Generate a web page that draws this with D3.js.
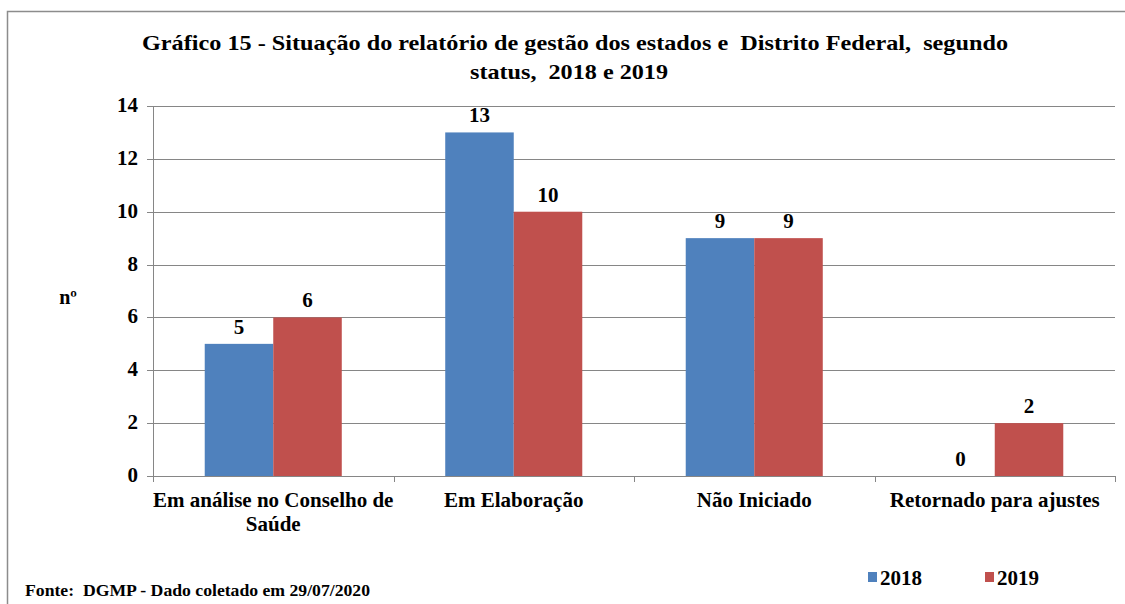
<!DOCTYPE html>
<html>
<head>
<meta charset="utf-8">
<script src="https://cdn.jsdelivr.net/npm/d3@7"></script>
<style>
  body { margin: 0; background: #fff; }
  svg text { font-family: "Liberation Serif", "Times New Roman", serif; font-weight: bold; fill: #000; white-space: pre; }
</style>
</head>
<body>
<svg width="1125" height="604"></svg>
<script>
'use strict';

const categories = ["Em análise no Conselho de Saúde", "Em Elaboração", "Não Iniciado", "Retornado para ajustes"];
const years = ["2018", "2019"];
const values2018 = [5, 13, 9, 0];
const values2019 = [6, 10, 9, 2];
const yTicks = [0, 2, 4, 6, 8, 10, 12, 14];
const colors = ["#4F81BD", "#C0504D"];

const svg = d3.select("svg");
const margin = {left: 153, right: 1115, top: 106, bottom: 476};

// outer frame
svg.append("rect")
  .attr("x", 7.5).attr("y", 11.5)
  .attr("width", 1130).attr("height", 610)
  .attr("fill", "none").attr("stroke", "#8c8c8c").attr("stroke-width", 1.5);

const x = d3.scaleBand().domain(categories).range([margin.left, margin.right]);
const xSub = d3.scaleBand().domain(years).range([0, x.bandwidth()]).paddingOuter(0.755);
const y = d3.scaleLinear().domain([0, 14]).range([margin.bottom, margin.top]);

// grid
svg.append("g").selectAll("line").data(yTicks).join("line")
  .attr("x1", margin.left - 6).attr("x2", margin.right)
  .attr("y1", d => Math.round(y(d)) + 0.5).attr("y2", d => Math.round(y(d)) + 0.5)
  .attr("stroke", "#868686").attr("stroke-width", 1);

// y axis line
svg.append("line")
  .attr("x1", margin.left + 0.5).attr("x2", margin.left + 0.5)
  .attr("y1", margin.top).attr("y2", margin.bottom)
  .attr("stroke", "#868686");

// x tick marks
const bounds = categories.map(c => x(c)).concat([margin.right]);
svg.append("g").selectAll("line").data(bounds).join("line")
  .attr("x1", d => Math.round(d) + 0.5).attr("x2", d => Math.round(d) + 0.5)
  .attr("y1", margin.bottom).attr("y2", margin.bottom + 6)
  .attr("stroke", "#868686");

// y tick labels
svg.append("g").selectAll("text").data(yTicks).join("text")
  .attr("x", 138).attr("y", d => y(d) + 6)
  .attr("text-anchor", "end").attr("font-size", 21)
  .text(d => d);

svg.append("text").attr("x", 68).attr("y", 304)
  .attr("text-anchor", "middle").attr("font-size", 20).text("nº");

// bars
const series = [values2018, values2019];
const groups = svg.append("g").selectAll("g").data(categories).join("g")
  .attr("transform", c => `translate(${x(c)},0)`);

groups.selectAll("rect")
  .data((c, i) => years.map((yr, j) => ({yr, j, v: series[j][i]})))
  .join("rect")
  .attr("x", d => xSub(d.yr)).attr("width", xSub.bandwidth())
  .attr("y", d => y(d.v)).attr("height", d => y(0) - y(d.v))
  .attr("fill", d => colors[d.j]);

groups.selectAll("text.val")
  .data((c, i) => years.map((yr, j) => ({yr, j, v: series[j][i]})))
  .join("text").attr("class", "val")
  .attr("x", d => xSub(d.yr) + xSub.bandwidth() / 2)
  .attr("y", d => y(d.v) - 10)
  .attr("text-anchor", "middle").attr("font-size", 21)
  .text(d => d.v);

// category labels
const catLines = [["Em análise no Conselho de", "Saúde"], ["Em Elaboração"], ["Não Iniciado"], ["Retornado para ajustes"]];
categories.forEach((c, i) => {
  const t = svg.append("text")
    .attr("x", x(c) + x.bandwidth() / 2).attr("y", 507)
    .attr("text-anchor", "middle").attr("font-size", 21);
  catLines[i].forEach((l, k) => {
    t.append("tspan").attr("x", x(c) + x.bandwidth() / 2).attr("dy", k ? 24 : 0).text(l);
  });
});

// title
svg.append("text").attr("x", 575).attr("y", 50)
  .attr("text-anchor", "middle").attr("font-size", 22)
  .attr("textLength", 866).attr("lengthAdjust", "spacingAndGlyphs")
  .text("Gráfico 15 - Situação do relatório de gestão dos estados e  Distrito Federal,  segundo");
svg.append("text").attr("x", 569).attr("y", 79)
  .attr("text-anchor", "middle").attr("font-size", 22)
  .attr("textLength", 198).attr("lengthAdjust", "spacingAndGlyphs")
  .text("status,  2018 e 2019");

// legend
const legX = [868, 985];
years.forEach((yr, j) => {
  svg.append("rect").attr("x", legX[j]).attr("y", 572).attr("width", 9).attr("height", 10).attr("fill", colors[j]);
  svg.append("text").attr("x", legX[j] + 12).attr("y", 585).attr("font-size", 21).text(yr);
});

// footer
svg.append("text").attr("x", 25).attr("y", 596).attr("font-size", 16)
  .attr("textLength", 345).attr("lengthAdjust", "spacingAndGlyphs")
  .text("Fonte:  DGMP - Dado coletado em 29/07/2020");
</script>
</body>
</html>
